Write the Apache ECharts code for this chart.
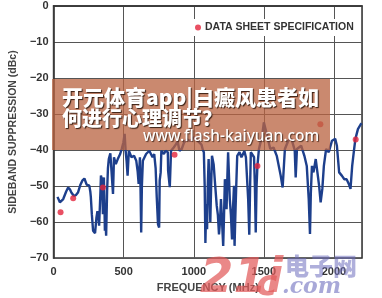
<!DOCTYPE html>
<html>
<head>
<meta charset="utf-8">
<script src="https://cdn.jsdelivr.net/npm/echarts@6/dist/echarts.min.js"></script>
<style>html,body{margin:0;padding:0;background:#fff}#c{width:382px;height:298px}</style>
</head>
<body>
<div id="c"></div>
<script>
// measured trace: frequency (MHz) and sideband suppression (dBc)
var freq = [28,35,45,55,69,90,104,118,127,144,160,174,190,205,220,236,255,262,266,273,282,296,306,313,319,325,329,334,338,343,347,352,356,359,363,366,371,375,382,388,394,405,417,424,431,444,458,475,486,498,507,514,521,528,537,556,574,590,600,607,616,620,625,630,637,660,683,695,706,718,728,736,745,753,757,764,769,787,799,806,815,817,829,838,857,875,884,898,914,930,950,975,1000,1030,1055,1065,1072,1078,1083,1089,1095,1100,1106,1112,1118,1124,1130,1142,1153,1164,1172,1180,1187,1194,1202,1210,1216,1222,1228,1234,1240,1245,1251,1257,1265,1273,1280,1287,1291,1296,1303,1310,1326,1340,1350,1361,1372,1380,1388,1396,1402,1407,1419,1430,1436,1442,1448,1454,1465,1488,1500,1523,1546,1569,1592,1620,1634,1650,1674,1697,1720,1727,1736,1766,1789,1806,1820,1829,1835,1843,1854,1870,1882,1894,1905,1917,1928,1944,1963,1986,2009,2021,2037,2056,2074,2090,2106,2118,2130,2144,2153,2171,2190,2198];
var suppression = [-53,-52.5,-54.5,-55,-53.6,-51.5,-50.4,-51,-51.8,-52.7,-52.5,-51.8,-49.8,-48.5,-47.9,-49.6,-49.9,-51.5,-53.1,-57.8,-62.4,-63.1,-58.7,-57,-57.8,-61,-60.6,-52,-47.1,-48,-49.4,-57.8,-50,-47.6,-55,-62.4,-60,-63.8,-51.3,-45,-42.5,-40.9,-40.6,-52.2,-42,-43.9,-42.5,-41.1,-39.7,-37.9,-35.5,-40.2,-43,-47.1,-40.2,-42,-41.6,-43,-46,-49.4,-42,-50,-62.9,-50,-43,-41.1,-40.2,-39.7,-42,-41.1,-45,-53.1,-60.6,-61.5,-48.5,-46.2,-40.2,-41.1,-40.2,-40.6,-40.6,-45.7,-50.3,-40.2,-39.3,-38.3,-37.4,-40.2,-39.7,-38,-37,-37.5,-36.5,-37.5,-38.5,-40,-40.6,-50,-65.8,-55,-62,-50,-42.5,-50,-60,-50,-41.6,-44,-49.9,-55.5,-58,-63.4,-60,-53.6,-60,-66.6,-58,-48.1,-50,-56.4,-47,-40.6,-47,-53.6,-58,-64.8,-56,-49.9,-66.6,-59.2,-50,-41.6,-40.6,-42,-41.6,-40.3,-42,-42.5,-53.6,-63.5,-50,-40.6,-40.3,-42,-50,-62.9,-50,-44.4,-39.7,-36,-32.3,-36,-39.7,-39.3,-41.6,-47.1,-50.4,-39.7,-37.4,-36.9,-40,-47.6,-39.7,-38.8,-41.6,-44.4,-53.6,-63.3,-52,-44.4,-46.2,-42.5,-46.2,-49.9,-54.5,-50.8,-44.4,-39.7,-40.6,-37.4,-36.9,-38.8,-46.2,-47.1,-48.1,-48.1,-49.4,-50.8,-44.4,-39.7,-36.9,-34.2,-32.9,-32.6];
// data sheet specification points
var specFreq = [50, 140, 352, 863, 1454, 1903, 2155];
var specValue = [-57.3, -53.4, -50.4, -41.3, -44.4, -32.8, -37.1];
var specName = 'DATA SHEET SPECIFICATION';
var xTitle = 'FREQUENCY (MHz)';
var yTitle = 'SIDEBAND SUPPRESSION (dBc)';
var overlayLine1 = '开元体育app|白癜风患者如';
var overlayLine2 = '何进行心理调节？';
var overlayUrl = 'www.flash-kaiyuan.com';

var lineData = freq.map(function (f, i) { return [f, suppression[i]]; });
var specData = specFreq.map(function (f, i) { return [f, specValue[i]]; });

var chart = echarts.init(document.getElementById('c'), null, {renderer: 'canvas'});
var font = '"Liberation Sans", Arial, sans-serif';
chart.setOption({
  animation: false,
  grid: {left: 44, right: 20, top: 6, bottom: 38, show: true, borderColor: '#333', borderWidth: 1.5, backgroundColor: 'transparent'},
  legend: {
    data: [specName], left: 192, top: 19, padding: [3, 3], backgroundColor: '#fff',
    itemWidth: 6, itemHeight: 6, itemGap: 4, icon: 'circle',
    textStyle: {fontFamily: font, fontWeight: 'bold', fontSize: 10.5, color: '#333', padding: [0,0,0,-1]}
  },
  xAxis: {
    type: 'value', min: 0, max: 2200, interval: 500,
    name: xTitle, nameLocation: 'middle', nameGap: 23,
    nameTextStyle: {fontFamily: font, fontWeight: 'bold', fontSize: 11, color: '#444'},
    axisLine: {show: true, lineStyle: {color: '#333', width: 1.5}},
    axisTick: {show: false},
    axisLabel: {fontFamily: font, fontWeight: 'bold', fontSize: 11, color: '#333', margin: 8, showMaxLabel: false,
      formatter: function (v) { return String(v); }},
    splitLine: {show: true, lineStyle: {color: '#555', width: 1}}
  },
  yAxis: {
    type: 'value', min: -70, max: 0, interval: 10,
    name: yTitle, nameLocation: 'middle', nameGap: 31,
    nameTextStyle: {fontFamily: font, fontWeight: 'bold', fontSize: 10.5, color: '#444'},
    axisLine: {show: true, lineStyle: {color: '#333', width: 1.5}},
    axisTick: {show: false},
    axisLabel: {fontFamily: font, fontWeight: 'bold', fontSize: 11, color: '#333', margin: 5,
      formatter: function (v) { return String(v).replace('-', '\u2212'); }},
    splitLine: {show: true, lineStyle: {color: '#555', width: 1}}
  },
  series: [
    {type: 'line', data: lineData, showSymbol: false, smooth: false, z: 2,
     lineStyle: {color: '#1d3f8c', width: 2.4}, itemStyle: {color: '#1d3f8c'}},
    {type: 'scatter', name: specName, data: specData, symbolSize: 6, z: 3,
     itemStyle: {color: '#e3243c'}}
  ],
  graphic: [
    {type: 'rect', shape: {x: 52, y: 79, width: 278, height: 71}, z: 100,
     style: {fill: 'rgba(185,100,66,0.76)'}},
    {type: 'text', x: 62, y: 97, z: 101,
     style: {text: overlayLine1, font: '900 21px "Noto Sans CJK SC", sans-serif', fill: '#fff',
       verticalAlign: 'middle', textShadowColor: 'rgba(40,20,10,0.9)', textShadowOffsetX: 1, textShadowOffsetY: 1.5, textShadowBlur: 1}},
    {type: 'text', x: 62, y: 118, z: 101,
     style: {text: overlayLine2, font: '900 20px "Noto Sans CJK SC", sans-serif', fill: '#fff',
       verticalAlign: 'middle', textShadowColor: 'rgba(40,20,10,0.9)', textShadowOffsetX: 1, textShadowOffsetY: 1.5, textShadowBlur: 1}},
    {type: 'text', x: 143, y: 137, z: 101,
     style: {text: overlayUrl, font: '500 15.5px "Noto Sans", sans-serif', fill: '#fff',
       verticalAlign: 'middle', textShadowColor: 'rgba(40,20,10,0.7)', textShadowOffsetX: 1, textShadowOffsetY: 1, textShadowBlur: 1}},
    {type: 'text', x: 200, y: 256, z: 102,
     style: {text: '21i', font: 'italic 900 48px "DejaVu Sans", sans-serif', fill: 'rgba(226,90,90,0.72)'}},
    {type: 'text', x: 256, y: 268, z: 102,
     style: {text: 'c', font: 'italic 900 36px "DejaVu Sans", sans-serif', fill: 'rgba(226,90,90,0.72)'}},
    {type: 'text', x: 285, y: 254, z: 102,
     style: {text: '电子网', font: '900 24px "Noto Sans CJK SC", sans-serif', fill: 'rgba(110,110,190,0.55)'}},
    {type: 'text', x: 282, y: 276, z: 102,
     style: {text: '.com', font: 'italic 900 22px "DejaVu Serif", serif', fill: 'rgba(110,110,190,0.6)'}}
  ]
});
</script>
</body>
</html>
